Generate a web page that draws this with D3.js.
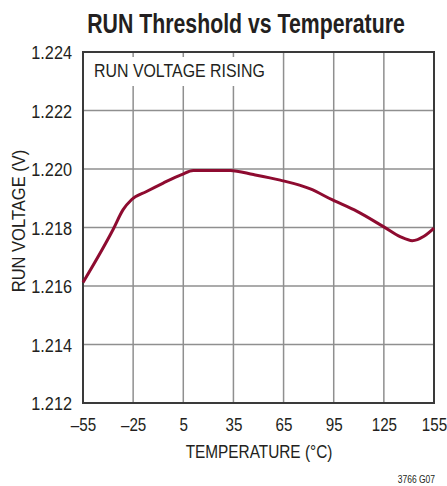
<!DOCTYPE html>
<html>
<head>
<meta charset="utf-8">
<script src="https://cdn.jsdelivr.net/npm/d3@7"></script>
<style>
  body { margin: 0; background: #fff; }
  text { font-family: "Liberation Sans", Arial, sans-serif; fill: #231f20; }
</style>
</head>
<body>
<div id="chart"></div>
<script>
// RUN threshold (rising) vs temperature
const temps = [-55, -37, -31, -26, -17, -7, 4, 11, 33, 47, 63, 81, 94, 109, 125, 135, 142, 149, 155];
const volts = [1.21612, 1.21793, 1.21861, 1.21895, 1.21923, 1.21952, 1.21981, 1.21995, 1.21995, 1.21981, 1.21962,
               1.21932, 1.21895, 1.21855, 1.21802, 1.21768, 1.21755, 1.21770, 1.21798];
const xTicks = [-55, -25, 5, 35, 65, 95, 125, 155];
const yTicks = [1.212, 1.214, 1.216, 1.218, 1.220, 1.222, 1.224];

const W = 447, H = 486;
const margin = { top: 52, right: 13, bottom: 83, left: 83 };
const width = W - margin.left - margin.right;
const height = H - margin.top - margin.bottom;

// the original uses a condensed face, so squeeze the text horizontally
const squeezed = (tx, ty, sx, rot) =>
  `translate(${tx},${ty})${rot ? ` rotate(${rot})` : ''} scale(${sx},1)`;

const svg = d3.select('#chart')
  .append('svg')
    .attr('width', W)
    .attr('height', H);

// title
svg.append('text')
  .attr('transform', squeezed(246, 33, 0.76))
  .attr('text-anchor', 'middle')
  .style('font-size', '28px')
  .style('font-weight', 'bold')
  .text('RUN Threshold vs Temperature');

const g = svg.append('g')
  .attr('transform', `translate(${margin.left},${margin.top})`);

const x = d3.scaleLinear().domain([-55, 155]).range([0, width]);
const y = d3.scaleLinear().domain([1.212, 1.224]).range([height, 0]);

// grid lines
g.append('g')
  .selectAll('line')
  .data(xTicks.slice(1, -1))
  .enter()
  .append('line')
    .attr('x1', d => x(d)).attr('x2', d => x(d))
    .attr('y1', 0).attr('y2', height)
    .attr('stroke', '#8f8f8f')
    .attr('stroke-width', 1.5);

g.append('g')
  .selectAll('line')
  .data(yTicks.slice(1, -1))
  .enter()
  .append('line')
    .attr('x1', 0).attr('x2', width)
    .attr('y1', d => y(d)).attr('y2', d => y(d))
    .attr('stroke', '#8f8f8f')
    .attr('stroke-width', 1.5);

// white box behind the inside label
g.append('rect')
  .attr('x', 2).attr('y', 5)
  .attr('width', 186).attr('height', 29)
  .attr('fill', '#fff');

g.append('text')
  .attr('transform', squeezed(11, 24.5, 0.86))
  .style('font-size', '18.5px')
  .text('RUN VOLTAGE RISING');

// frame
g.append('rect')
  .attr('width', width)
  .attr('height', height)
  .attr('fill', 'none')
  .attr('stroke', '#3a3a3a')
  .attr('stroke-width', 2);

// axes (labels only)
const xAxis = g.append('g')
  .attr('transform', `translate(0,${height})`)
  .call(d3.axisBottom(x).tickValues(xTicks).tickSize(0)
    .tickFormat(d => d < 0 ? '\u2013' + Math.abs(d) : d));
xAxis.select('.domain').remove();
xAxis.selectAll('text')
  .attr('y', 0).attr('dy', null)
  .attr('transform', squeezed(0, 28, 0.8))
  .style('font-size', '19px')
  .attr('fill', '#231f20');

const yAxis = g.append('g')
  .call(d3.axisLeft(y).tickValues(yTicks).tickSize(0)
    .tickFormat(d3.format('.3f')));
yAxis.select('.domain').remove();
yAxis.selectAll('text')
  .attr('x', 0)
  .attr('dy', '0.36em')
  .attr('transform', squeezed(-11, 0, 0.88))
  .style('font-size', '18.5px')
  .attr('fill', '#231f20');

// axis titles
svg.append('text')
  .attr('transform', squeezed(259, 458, 0.81))
  .attr('text-anchor', 'middle')
  .style('font-size', '19px')
  .text('TEMPERATURE (°C)');

svg.append('text')
  .attr('transform', squeezed(25, 221, 0.87, -90))
  .attr('text-anchor', 'middle')
  .style('font-size', '19px')
  .text('RUN VOLTAGE (V)');

// curve
const line = d3.line()
  .x((d, i) => x(temps[i]))
  .y(d => y(d))
  .curve(d3.curveMonotoneX);

g.append('path')
  .datum(volts)
  .attr('fill', 'none')
  .attr('stroke', '#8e0b30')
  .attr('stroke-width', 3)
  .attr('stroke-linejoin', 'round')
  .attr('d', line);

// figure id
svg.append('text')
  .attr('transform', squeezed(435, 483, 0.85))
  .attr('text-anchor', 'end')
  .style('font-size', '10px')
  .text('3766 G07');
</script>
</body>
</html>
